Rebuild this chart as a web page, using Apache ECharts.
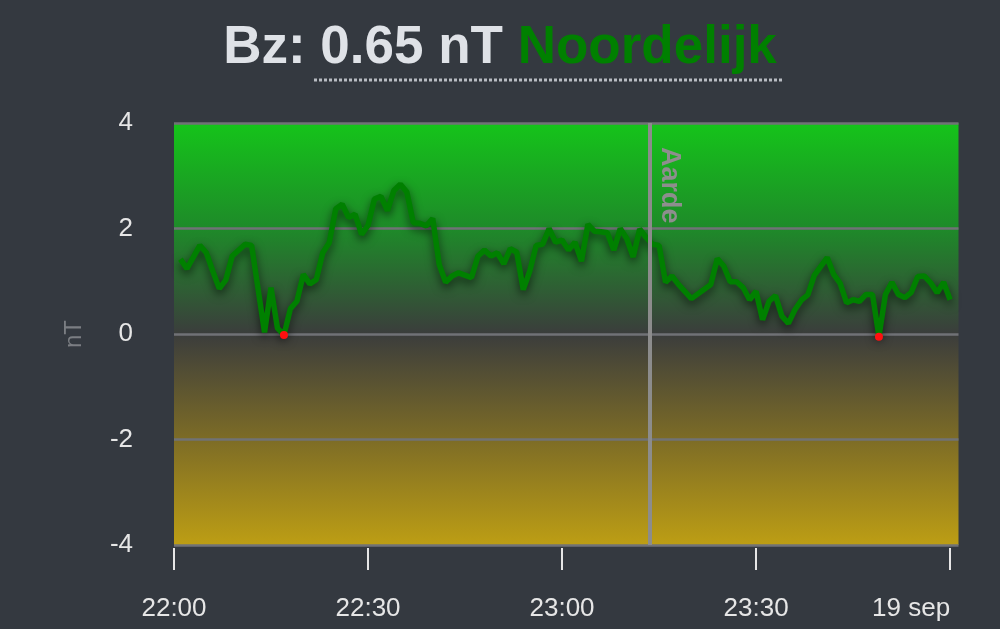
<!DOCTYPE html>
<html><head><meta charset="utf-8">
<script src="https://cdn.jsdelivr.net/npm/echarts@6/dist/echarts.min.js"></script>
<style>html,body{margin:0;padding:0;background:#343940;}#c{width:1000px;height:629px;}</style>
</head><body><div id="c"></div>
<script>
// minutes after 22:00 (18 sep)
const minutes = [1,2,4,5,6,7,8,9,11,12,14,15,16,17,18,19,20,21,22,23,24,25,26,27,28,29,30,31,32,33,34,35,36,37,38,39,40,41,42,43,44,46,47,48,49,50,51,52,53,54,55,56,57,58,59,60,61,62,63,64,65,66,67,68,69,70,71,72,73,74,75,76,77,78,80,83,84,85,86,87,88,89,90,91,92,93,94,95,96,97,98,99,101,102,103,104,105,106,107,108,109,110,111,112,113,114,115,116,117,118,119,120];
// Bz in nT
const bz = [1.42,1.24,1.68,1.54,1.19,0.86,1.02,1.48,1.70,1.68,0.03,0.88,0.11,-0.02,0.48,0.62,1.13,0.95,1.03,1.54,1.73,2.37,2.46,2.21,2.27,1.89,2.06,2.56,2.61,2.34,2.72,2.84,2.69,2.11,2.10,2.05,2.19,1.32,0.98,1.10,1.16,1.07,1.48,1.59,1.48,1.54,1.33,1.62,1.55,0.84,1.19,1.68,1.70,2.00,1.74,1.78,1.59,1.74,1.38,2.08,1.95,1.94,1.92,1.59,2.00,1.81,1.46,1.99,1.83,1.70,1.68,0.98,1.10,0.94,0.67,0.94,1.43,1.29,0.99,0.99,0.88,0.65,0.81,0.27,0.62,0.73,0.34,0.20,0.46,0.64,0.74,1.11,1.45,1.13,0.96,0.59,0.65,0.62,0.75,0.75,-0.05,0.75,0.98,0.75,0.69,0.79,1.09,1.10,0.97,0.78,0.98,0.65];
const tickMinutes = [0,30,60,90,120];
const tickLabels = ['22:00','22:30','23:00','23:30','19 sep'];
const xEndMinute = 121.3;
const earthMinute = 73.6;
const earthLabel = 'Aarde';
const titleValue = 'Bz: 0.65 nT';
const titleDirection = 'Noordelijk';
const yName = 'nT';

const chart = echarts.init(document.getElementById('c'), null, {renderer:'canvas'});
const seriesData = minutes.map((m,i)=> bz[i] <= 0
  ? {value:[m,bz[i]], symbol:'circle', symbolSize:8, itemStyle:{color:'#ff1010'}}
  : [m,bz[i]]);
const FF = 'Liberation Sans, Arial, sans-serif';

chart.setOption({
  backgroundColor:'#343940',
  animation:false,
  title:{
    text:'{a|'+titleValue+'\u00a0}{b|'+titleDirection+'}',
    left:'center', top:17,
    textStyle:{rich:{
      a:{fontFamily:FF,fontWeight:'bold',fontSize:53,color:'#dfe2e7'},
      b:{fontFamily:FF,fontWeight:'bold',fontSize:53,color:'#008000'}
    }}
  },
  graphic:[{type:'line',shape:{x1:314,y1:80,x2:783,y2:80},style:{stroke:'#b8bcc2',lineWidth:3,lineDash:[3,2]}}],
  grid:{left:174,right:41.5,top:123,bottom:84,show:true,borderWidth:0,
    backgroundColor:{type:'linear',x:0,y:0,x2:0,y2:1,colorStops:[
      {offset:0,color:'#15c41a'},{offset:0.25,color:'#1e8a29'},{offset:0.5,color:'#3b3d3c'},
      {offset:0.75,color:'#7d6c26'},{offset:1,color:'#bd9e14'}]}},
  xAxis:{type:'value',min:0,max:xEndMinute,offset:3,
    axisLine:{show:false,onZero:false},
    splitLine:{show:false},
    axisTick:{show:true,length:22,customValues:tickMinutes,lineStyle:{color:'#e6e6e6',width:2}},
    axisLabel:{customValues:tickMinutes,margin:48,fontSize:26,color:'#e6e6e6',fontFamily:FF,
      alignMaxLabel:'right',
      formatter:v=>tickLabels[tickMinutes.indexOf(v)] ?? ''}
  },
  yAxis:{type:'value',min:-4,max:4,interval:2,
    name:yName,nameLocation:'middle',nameGap:88,nameRotate:90,
    nameTextStyle:{color:'#7b7e83',fontSize:24,fontFamily:FF},
    axisLine:{show:false},axisTick:{show:false},
    axisLabel:{margin:41,fontSize:26,color:'#e6e6e6',fontFamily:FF},
    splitLine:{lineStyle:{color:'#707276',width:2.5}}
  },
  series:[{
    type:'line',data:seriesData,symbol:'none',showSymbol:true,
    lineStyle:{color:'#008000',width:5.5,shadowColor:'rgba(0,0,0,0.6)',shadowBlur:10,shadowOffsetY:4},
    itemStyle:{color:'#008000'},
    markLine:{silent:true,symbol:['none','none'],
      lineStyle:{color:'#8c8c8c',width:4,type:'solid'},
      label:{show:true,formatter:earthLabel,position:'insideStartTop',distance:[24,6],color:'#8e8e8e',fontSize:27,fontWeight:'bold',fontFamily:FF},
      data:[[{coord:[earthMinute,4]},{coord:[earthMinute,-4]}]]}
  }]
});
</script></body></html>
